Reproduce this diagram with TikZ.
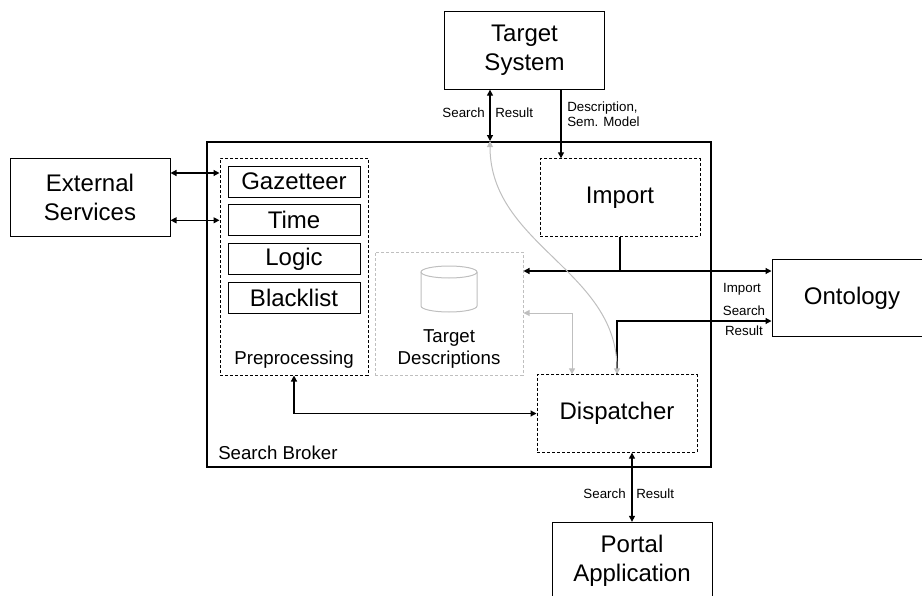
\documentclass[tikz,border=0pt]{standalone}
\usepackage{fontspec}
\setmainfont{Liberation Sans}
\usetikzlibrary{arrows.meta}

\begin{document}
\begin{tikzpicture}[x=0.75pt, y=-0.75pt,
        >={Triangle[length=4.5pt,width=4.5pt]},
        box/.style={draw, line width=0.75pt, inner sep=0pt, align=center,
            minimum width=120pt, minimum height=58pt, font=\fontsize{18}{21.75}\selectfont},
        dashbox/.style={box, dash pattern=on 2.25pt off 1.5pt},
        module/.style={box, minimum width=99pt, minimum height=23.25pt},
        lbl/.style={font=\fontsize{14}{16.5}\selectfont, align=center, inner sep=0pt},
        tiny/.style={font=\fontsize{10}{11.25}\selectfont, align=left, inner sep=0pt},
        link/.style={line width=0.9pt},
        faint/.style={draw=lightgray, line width=0.75pt}]
    \useasboundingbox (0,0) rectangle (922,596);
    \node[box, line width=1.5pt, minimum width=378pt, minimum height=243.75pt] (broker) at (459,304.5) {};
    \node[box] (tsys) at (524.5,50.5) {Target\\System};
    \node[box] (ext) at (90,197.5) {External\\Services};
    \node[box] (onto) at (852,298) {Ontology};
    \node[box] (portal) at (632,561) {Portal\\Application};
    \node[dashbox, minimum width=111pt, minimum height=162.75pt] (prep) at (294,266.5) {};
    \node[dashbox] (import) at (620,197.5) {Import};
    \node[dashbox] (disp) at (617,413.5) {Dispatcher};
    \node[dashbox, draw=lightgray, minimum width=111pt, minimum height=92.25pt] (tdesc) at (449,313.5) {};
    \foreach \name/\txt [count=\i] in {gaz/Gazetteer, time/Time, logic/Logic, blist/Blacklist}
        \node[module] (\name) at (294,142.7+38.8*\i) {\txt};
    \node[lbl, anchor=west] (sbroker) at (218,453) {Search Broker};
    \node[lbl] (preplabel) at (294,360) {Preprocessing};
    \node[lbl] (tdesclabel) at (449,349) {Target\\Descriptions};
    \draw[faint] (449,272) ellipse [x radius=21pt, y radius=4.5pt];
    \draw[faint] (421,272) -- (421,306) arc[start angle=180, end angle=360, x radius=21pt, y radius=4.5pt] -- (477,272);

    \draw[link, <->] (ext.east |- 0,173) -- (prep.west |- 0,173);
    \draw[link, <->] (ext.east |- time) -- (prep.west |- time);
    \draw[link, <->] (tsys.south -| 490,0) -- (broker.north -| 490,0);
    \draw[link, ->] (tsys.south -| 561,0) -- (import.north -| 561,0);
    \draw[link, <->] (tdesc.east |- 0,271) -- (onto.west |- 0,271);
    \draw[link] (import.south) -- (import.south |- 0,271);
    \draw[link, ->] (disp.north) |- (onto.west |- 0,321);
    \draw[link, <->] (prep.south) |- (disp.west);
    \draw[link, <->] (disp.south -| portal.north) -- (portal.north);
    \draw[faint, <->] (tdesc.east |- 0,313) -| (disp.north -| 572,0);
    \draw[faint, <->] (broker.north -| 490,0) to[out=-90, in=90] (disp.north);

    \node[tiny, anchor=east] (srch1) at (485,113) {Search};
    \node[tiny, anchor=west] (res1) at (495,113) {Result};
    \node[tiny, anchor=west] (descr) at (567,114) {Description,\\Sem. Model};
    \node[tiny] (imp2) at (742,289) {Import};
    \node[tiny] (srch2) at (744,311) {Search};
    \node[tiny] (res2) at (744,331) {Result};
    \node[tiny, anchor=east] (srch3) at (626,494) {Search};
    \node[tiny, anchor=west] (res3) at (636,494) {Result};
\end{tikzpicture}
\end{document}
